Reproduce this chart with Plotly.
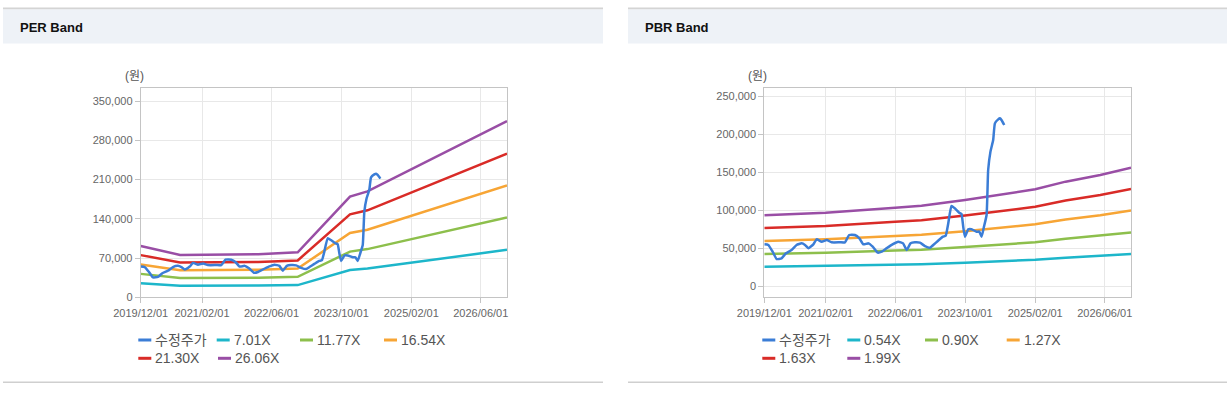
import plotly.graph_objects as go

W, H = 1229, 393

# ---------------- data ----------------
price_dates = ["2019-12-01", "2019-12-29", "2020-01-28", "2020-02-25", "2020-03-30", "2020-04-30",
               "2020-06-08", "2020-07-13", "2020-08-17", "2020-09-10", "2020-10-03", "2020-11-07",
               "2020-11-30", "2021-01-04", "2021-02-09", "2021-03-14", "2021-05-11", "2021-06-15",
               "2021-07-15", "2021-08-24", "2021-09-24", "2021-10-21", "2021-11-26", "2021-12-26",
               "2022-01-30", "2022-02-27", "2022-04-01", "2022-05-13", "2022-06-22", "2022-07-26",
               "2022-08-19", "2022-09-16", "2022-10-16", "2022-11-20", "2022-12-25", "2023-01-29",
               "2023-02-21", "2023-03-27", "2023-04-30", "2023-05-19", "2023-06-05", "2023-06-28",
               "2023-07-21", "2023-08-21", "2023-09-06", "2023-09-18", "2023-09-30", "2023-10-23",
               "2023-11-15", "2023-12-20", "2024-01-08", "2024-01-24", "2024-02-10", "2024-02-28",
               "2024-03-10", "2024-03-26", "2024-04-14", "2024-04-26", "2024-05-19", "2024-05-31",
               "2024-06-11", "2024-06-30"]
price = [54800, 54000, 45200, 35500, 36400, 43000,
         47400, 54000, 56100, 54000, 49600, 54800,
         61400, 58300, 60500, 57500, 57500, 57500,
         67100, 67100, 62700, 54800, 56100, 51800,
         43900, 45200, 49600, 54800, 58300, 56100,
         47400, 56100, 57500, 57000, 52600, 50400,
         54000, 59600, 64900, 66200, 81600, 105300,
         102200, 96500, 94700, 78100, 64900, 74600,
         74600, 71500, 71500, 64900, 78100, 93400,
         152600, 176800, 192100, 214000, 219300, 220600,
         218400, 211800]

per_dates = ["2019-12-01", "2020-09-01", "2022-03-01", "2022-12-01", "2023-12-01", "2024-04-01", "2026-12-01"]
per_names = ["7.01X", "11.77X", "16.54X", "21.30X", "26.06X"]
per_701 = [25200, 20800, 21000, 21800, 48800, 51200, 84700]
per_1177 = [41800, 34600, 35000, 36500, 81500, 86000, 142600]
per_1654 = [58500, 48400, 49000, 51200, 114800, 120500, 199500]
per_2130 = [75300, 62200, 63000, 65800, 148000, 155200, 256500]
per_2606 = [91700, 75600, 76800, 80200, 179800, 189000, 314600]

pbr_dates = ["2019-12-01", "2021-02-01", "2022-06-01", "2022-12-01", "2023-10-01", "2024-06-01",
             "2025-02-01", "2025-09-01", "2026-05-01", "2026-12-01"]
pbr_names = ["0.54X", "0.90X", "1.27X", "1.63X", "1.99X"]
pbr_054 = [25200, 26200, 27900, 28600, 30700, 32400, 34500, 37200, 39600, 42200]
pbr_090 = [42000, 43600, 46600, 47800, 51200, 54100, 57500, 62100, 66000, 70400]
pbr_127 = [59300, 61600, 65800, 67400, 72200, 76400, 81200, 87600, 93100, 99300]
pbr_163 = [76200, 79000, 84400, 86600, 92700, 98000, 104200, 112400, 119600, 127500]
pbr_199 = [93000, 96500, 103100, 105700, 113200, 119700, 127200, 137300, 146000, 155700]

x_tick_vals = ["2019-12-01", "2021-02-01", "2022-06-01", "2023-10-01", "2025-02-01", "2026-06-01"]
x_tick_text = ["2019/12/01", "2021/02/01", "2022/06/01", "2023/10/01", "2025/02/01", "2026/06/01"]
per_y_ticks = [0, 70000, 140000, 210000, 280000, 350000]
pbr_y_ticks = [0, 50000, 100000, 150000, 200000, 250000]

price_name = "수정주가"
titles = ["PER Band", "PBR Band"]
unit = "(원)"

# ---------------- styles ----------------
c_price = "#3b7dd6"
band_colors = ["#1db6ca", "#8dbf4c", "#f7a535", "#d92b27", "#994ea5"]
font_fam = "Liberation Sans, Arial, Noto Sans CJK KR, sans-serif"


def px(x):
    return x / W


def py(y):
    return 1 - y / H


fig = go.Figure()

per_bands = [per_701, per_1177, per_1654, per_2130, per_2606]
pbr_bands = [pbr_054, pbr_090, pbr_127, pbr_163, pbr_199]

for vals, nm, col in zip(per_bands, per_names, band_colors):
    fig.add_trace(go.Scatter(x=per_dates, y=vals, name=nm, mode="lines",
                             line=dict(color=col, width=2.5), xaxis="x", yaxis="y", showlegend=False))
fig.add_trace(go.Scatter(x=price_dates, y=price, name=price_name, mode="lines",
                         line=dict(color=c_price, width=2.5, shape="spline", smoothing=0.4),
                         xaxis="x", yaxis="y", showlegend=False))

for vals, nm, col in zip(pbr_bands, pbr_names, band_colors):
    fig.add_trace(go.Scatter(x=pbr_dates, y=vals, name=nm, mode="lines",
                             line=dict(color=col, width=2.5), xaxis="x2", yaxis="y2", showlegend=False))
fig.add_trace(go.Scatter(x=price_dates, y=price, name=price_name, mode="lines",
                         line=dict(color=c_price, width=2.5, shape="spline", smoothing=0.4),
                         xaxis="x2", yaxis="y2", showlegend=False))

axis_common = dict(showline=True, mirror=True, linecolor="#c4c4c4", linewidth=1,
                   ticks="outside", ticklen=5, tickcolor="#c4c4c4", automargin=False,
                   showgrid=True, gridcolor="#e8e8e8", gridwidth=1, zeroline=False,
                   tickfont=dict(family=font_fam, size=11, color="#666666"))

ydom = [py(297.3), py(88.3)]
fig.update_layout(
    template="none",
    xaxis=dict(domain=[px(140.7), px(507)], type="date", range=["2019-12-01", "2026-12-01"],
               tickvals=x_tick_vals, ticktext=x_tick_text, anchor="y", **axis_common),
    yaxis=dict(domain=ydom, range=[0, 373000], tickvals=per_y_ticks, tickformat=",",
               anchor="x", **axis_common),
    xaxis2=dict(domain=[px(764.3), px(1131)], type="date", range=["2019-12-01", "2026-12-01"],
                tickvals=x_tick_vals, ticktext=x_tick_text, anchor="y2", **axis_common),
    yaxis2=dict(domain=ydom, range=[-14870, 260130], tickvals=pbr_y_ticks, tickformat=",",
                anchor="x2", **axis_common),
)

shapes = []
annotations = []
panels = [(3, 603), (628, 1227)]
for (x0, x1), title in zip(panels, titles):
    shapes.append(dict(type="rect", xref="paper", yref="paper", x0=px(x0), x1=px(x1),
                       y0=py(9.5), y1=py(7.5), fillcolor="#d4d4d4", line=dict(width=0), layer="below"))
    shapes.append(dict(type="rect", xref="paper", yref="paper", x0=px(x0), x1=px(x1),
                       y0=py(43.5), y1=py(9.5), fillcolor="#eef2f7", line=dict(width=0), layer="below"))
    shapes.append(dict(type="rect", xref="paper", yref="paper", x0=px(x0), x1=px(x1),
                       y0=py(383), y1=py(381.5), fillcolor="#cfcfcf", line=dict(width=0), layer="below"))
    annotations.append(dict(xref="paper", yref="paper", x=px(x0 + 15), y=py(27), text=title,
                            showarrow=False, xanchor="left", yanchor="middle",
                            font=dict(family=font_fam, size=13, color="#111111", weight="bold")))

for cx in (134.5, 757.5):
    annotations.append(dict(xref="paper", yref="paper", x=px(cx), y=py(76), text=unit,
                            showarrow=False, xanchor="center", yanchor="middle",
                            font=dict(family=font_fam, size=12, color="#555555")))

legend_sets = [
    ([price_name] + per_names, [(138.3, 340), (216.7, 340), (300, 340), (384, 340), (138.3, 358.3), (218, 358.3)]),
    ([price_name] + pbr_names, [(762.3, 340), (847.3, 340), (925, 340), (1006.7, 340), (762.3, 358.3), (847.3, 358.3)]),
]
legend_colors = [c_price] + band_colors
for names, pos in legend_sets:
    for nm, col, (lx, ly) in zip(names, legend_colors, pos):
        shapes.append(dict(type="line", xref="paper", yref="paper", x0=px(lx), x1=px(lx + 13),
                           y0=py(ly), y1=py(ly), line=dict(color=col, width=3)))
        annotations.append(dict(xref="paper", yref="paper", x=px(lx + 15), y=py(ly), text=nm,
                                showarrow=False, xanchor="left", yanchor="middle",
                                font=dict(family=font_fam, size=14, color="#555555")))

fig.update_layout(width=W, height=H, margin=dict(l=0, r=0, t=0, b=0, pad=0), autosize=False,
                  paper_bgcolor="white", plot_bgcolor="white",
                  shapes=shapes, annotations=annotations, showlegend=False,
                  font=dict(family=font_fam))

fig.write_html("out.html", config={"displayModeBar": False},
               post_script="document.body.style.margin='0px';document.body.style.overflow='hidden';")
